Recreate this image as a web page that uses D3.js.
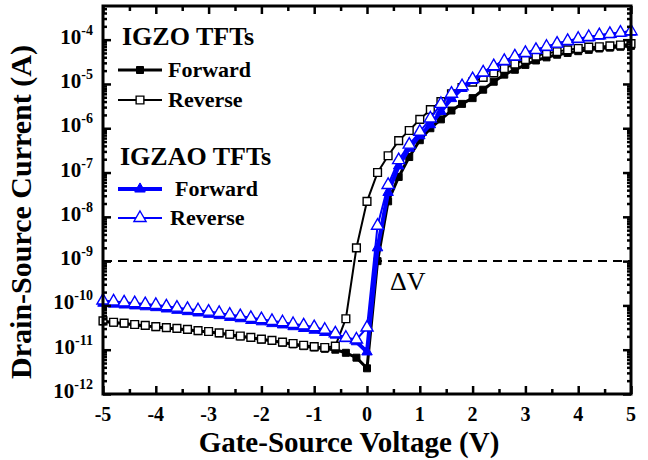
<!DOCTYPE html>
<html>
<head>
<meta charset="utf-8">
<script src="https://cdn.jsdelivr.net/npm/d3@7"></script>
<style>
  html, body { margin: 0; padding: 0; background: #fff; }
  svg { display: block; font-family: 'Liberation Serif', 'Times New Roman', serif; }
</style>
</head>
<body>
<script>
// gate voltage sweep (V)
const vgs = [-5, -4.8, -4.6, -4.4, -4.2, -4, -3.8, -3.6, -3.4, -3.2, -3, -2.8, -2.6, -2.4, -2.2, -2,
  -1.8, -1.6, -1.4, -1.2, -1, -0.8, -0.6, -0.4, -0.2, 0, 0.2, 0.4, 0.6, 0.8, 1, 1.2, 1.4, 1.6, 1.8,
  2, 2.2, 2.4, 2.6, 2.8, 3, 3.2, 3.4, 3.6, 3.8, 4, 4.2, 4.4, 4.6, 4.8, 5];

// log10 of drain current (A)
const igzoFwd = [-10.36, -10.39, -10.41, -10.44, -10.46, -10.49, -10.51, -10.53, -10.55, -10.58, -10.60,
  -10.63, -10.66, -10.70, -10.73, -10.77, -10.80, -10.84, -10.88, -10.92, -10.95, -10.98, -11.0, -11.07,
  -11.18, -11.42, -9.0, -7.65, -7.1, -6.65, -6.27, -6.0, -5.8, -5.6, -5.45, -5.32, -5.13, -4.95, -4.79,
  -4.68, -4.57, -4.47, -4.4, -4.34, -4.3, -4.26, -4.23, -4.2, -4.18, -4.16, -4.14];
const igzoRev = [-10.35, -10.38, -10.40, -10.43, -10.45, -10.48, -10.50, -10.52, -10.54, -10.57, -10.59,
  -10.62, -10.65, -10.69, -10.72, -10.76, -10.79, -10.83, -10.86, -10.90, -10.93, -10.95, -10.92, -10.3,
  -8.7, -7.65, -7.0, -6.62, -6.28, -6.05, -5.8, -5.58, -5.4, -5.22, -5.08, -4.96, -4.85, -4.75, -4.65,
  -4.55, -4.45, -4.37, -4.31, -4.27, -4.23, -4.2, -4.17, -4.16, -4.14, -4.12, -4.09];
const igzaoFwd = [-9.95, -9.97, -9.99, -10.01, -10.03, -10.05, -10.08, -10.11, -10.14, -10.17, -10.20,
  -10.23, -10.27, -10.30, -10.34, -10.37, -10.41, -10.44, -10.48, -10.52, -10.56, -10.61, -10.67, -10.75,
  -10.82, -11.05, -8.7, -7.45, -6.85, -6.45, -6.17, -5.92, -5.62, -5.33, -5.1, -4.92, -4.76, -4.62, -4.5,
  -4.4, -4.32, -4.25, -4.18, -4.11, -4.05, -4.0, -3.96, -3.92, -3.89, -3.86, -3.83];
const igzaoRev = [-9.89, -9.91, -9.93, -9.95, -9.97, -9.99, -10.02, -10.05, -10.08, -10.11, -10.14,
  -10.17, -10.21, -10.24, -10.28, -10.31, -10.35, -10.38, -10.42, -10.45, -10.49, -10.55, -10.63, -10.73,
  -10.77, -10.5, -8.2, -7.28, -6.72, -6.37, -6.08, -5.78, -5.45, -5.22, -5.05, -4.89, -4.74, -4.6, -4.48,
  -4.38, -4.3, -4.23, -4.16, -4.09, -4.03, -3.98, -3.94, -3.9, -3.87, -3.84, -3.81];

const xTicks = [-5, -4, -3, -2, -1, 0, 1, 2, 3, 4, 5];
const xMinor = [-4.5, -3.5, -2.5, -1.5, -0.5, 0.5, 1.5, 2.5, 3.5, 4.5];
const yExps = [-12, -11, -10, -9, -8, -7, -6, -5, -4];
const threshold = 1e-9;

const width = 648;
const height = 460;
const mLeft = 103, mRight = 631, mTop = 6, mBottom = 394;

const svg = d3.select('body').append('svg')
  .attr('width', width)
  .attr('height', height);

const x = d3.scaleLinear([-5, 5], [mLeft, mRight]);
const y = d3.scaleLog([1e-12, Math.pow(10, -3.24)], [mBottom, mTop]);

const series = [
  { name: 'igzoFwd', data: igzoFwd, color: '#000', lw: 3, sym: d3.symbolSquare, size: 49, fill: '#000', sw: 1 },
  { name: 'igzoRev', data: igzoRev, color: '#000', lw: 2, sym: d3.symbolSquare, size: 60, fill: '#fff', sw: 1.4 },
  { name: 'igzaoFwd', data: igzaoFwd, color: '#0000ff', lw: 4, sym: d3.symbolTriangle, size: 48, fill: '#0000ff', sw: 1 },
  { name: 'igzaoRev', data: igzaoRev, color: '#0000ff', lw: 2, sym: d3.symbolTriangle, size: 64, fill: '#fff', sw: 1.4 },
];

const line = d3.line()
  .x(d => x(d[0]))
  .y(d => y(Math.pow(10, d[1])));

// threshold dashed line
svg.append('line')
  .attr('x1', mLeft).attr('x2', mRight)
  .attr('y1', y(threshold)).attr('y2', y(threshold))
  .attr('stroke', '#000')
  .attr('stroke-width', 2)
  .attr('stroke-dasharray', '9,6');

series.forEach(s => {
  const pts = vgs.map((v, i) => [v, s.data[i]]);
  const g = svg.append('g').attr('class', s.name);
  g.append('path')
    .attr('d', line(pts))
    .attr('fill', 'none')
    .attr('stroke', s.color)
    .attr('stroke-width', s.lw)
    .attr('stroke-linejoin', 'round');
  g.selectAll('path.mk')
    .data(pts)
    .enter()
    .append('path')
    .attr('class', 'mk')
    .attr('d', d3.symbol(s.sym, s.size))
    .attr('transform', d => `translate(${x(d[0])},${y(Math.pow(10, d[1]))})`)
    .attr('fill', s.fill)
    .attr('stroke', s.color)
    .attr('stroke-width', s.sw);
});

// frame and ticks
const yMinor = [];
yExps.slice(0, -1).forEach(e => {
  for (let k = 2; k <= 9; k++) yMinor.push(k * Math.pow(10, e));
});
yMinor.push(2e-4, 3e-4, 4e-4, 5e-4);

function ticks(axisFn, scale, values, size, transform) {
  svg.append('g')
    .attr('transform', transform)
    .call(axisFn(scale).tickValues(values).tickSize(size).tickFormat(''))
    .call(g => g.select('.domain').remove())
    .call(g => g.selectAll('line').attr('stroke-width', 2.5));
}

ticks(d3.axisBottom, x, xTicks, -8, `translate(0,${mBottom})`);
ticks(d3.axisBottom, x, xMinor, -5, `translate(0,${mBottom})`);
ticks(d3.axisTop, x, xTicks, -8, `translate(0,${mTop})`);
ticks(d3.axisTop, x, xMinor, -5, `translate(0,${mTop})`);
ticks(d3.axisLeft, y, yExps.map(e => Math.pow(10, e)), -8, `translate(${mLeft},0)`);
ticks(d3.axisLeft, y, yMinor, -4, `translate(${mLeft},0)`);
ticks(d3.axisRight, y, yExps.map(e => Math.pow(10, e)), -8, `translate(${mRight},0)`);
ticks(d3.axisRight, y, yMinor, -4, `translate(${mRight},0)`);

svg.append('rect')
  .attr('x', mLeft).attr('y', mTop)
  .attr('width', mRight - mLeft).attr('height', mBottom - mTop)
  .attr('fill', 'none')
  .attr('stroke', '#000')
  .attr('stroke-width', 3);

// tick labels
svg.selectAll('.xlab')
  .data(xTicks)
  .enter()
  .append('text')
  .attr('x', d => x(d))
  .attr('y', 421)
  .attr('text-anchor', 'middle')
  .attr('font-weight', 'bold')
  .attr('font-size', 20)
  .text(d => d);

const ylab = svg.selectAll('.ylab')
  .data(yExps)
  .enter()
  .append('text')
  .attr('x', 93)
  .attr('y', d => y(Math.pow(10, d)) + 4)
  .attr('text-anchor', 'end')
  .attr('font-weight', 'bold')
  .attr('font-size', 21);
ylab.append('tspan').text('10');
ylab.append('tspan')
  .attr('font-size', 14)
  .attr('dy', -9)
  .text(d => d);

// axis titles
svg.append('text')
  .attr('x', (mLeft + mRight) / 2 - 18)
  .attr('y', 452)
  .attr('text-anchor', 'middle')
  .attr('font-weight', 'bold')
  .attr('font-size', 29)
  .text('Gate-Source Voltage (V)');

svg.append('text')
  .attr('transform', `translate(31,${(mTop + mBottom) / 2 + 12}) rotate(-90)`)
  .attr('text-anchor', 'middle')
  .attr('font-weight', 'bold')
  .attr('font-size', 30)
  .text('Drain-Source Current (A)');

// legend
const legend = svg.append('g').attr('id', 'legend');
const legendRows = [
  { title: 'IGZO TFTs', ty: 45, tx: 122, items: [
    { s: series[0], label: 'Forward', ly: 70, lx: 168 },
    { s: series[1], label: 'Reverse', ly: 100, lx: 168 },
  ] },
  { title: 'IGZAO TFTs', ty: 165, tx: 120, items: [
    { s: series[2], label: 'Forward', ly: 189, lx: 175 },
    { s: series[3], label: 'Reverse', ly: 218, lx: 170 },
  ] },
];
legendRows.forEach(r => {
  legend.append('text')
    .attr('x', r.tx).attr('y', r.ty)
    .attr('font-weight', 'bold')
    .attr('font-size', 26)
    .text(r.title);
  r.items.forEach(it => {
    legend.append('line')
      .attr('x1', 118).attr('x2', 162)
      .attr('y1', it.ly).attr('y2', it.ly)
      .attr('stroke', it.s.color)
      .attr('stroke-width', it.s.lw);
    legend.append('path')
      .attr('d', d3.symbol(it.s.sym, it.s.size))
      .attr('transform', `translate(140,${it.ly})`)
      .attr('fill', it.s.fill)
      .attr('stroke', it.s.color)
      .attr('stroke-width', it.s.sw);
    legend.append('text')
      .attr('x', it.lx).attr('y', it.ly + 7)
      .attr('font-weight', 'bold')
      .attr('font-size', 22)
      .text(it.label);
  });
});

svg.append('text')
  .attr('x', 390)
  .attr('y', 290)
  .attr('font-size', 26)
  .text('\u0394V');
</script>
</body>
</html>
